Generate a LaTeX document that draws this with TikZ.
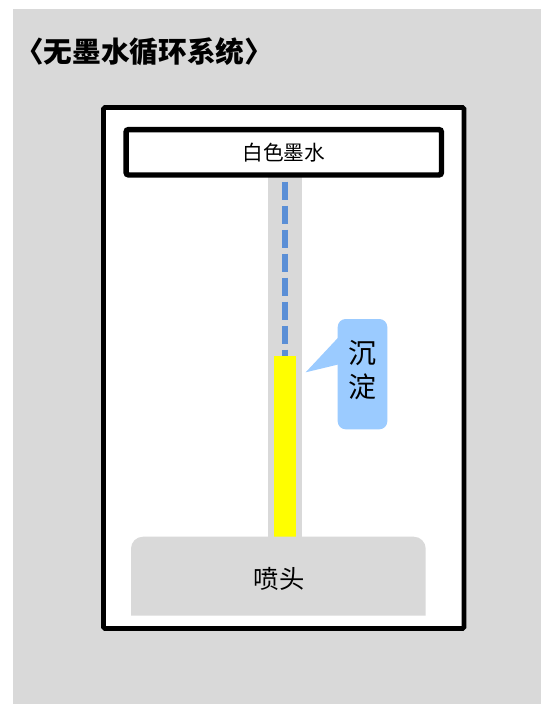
\documentclass[tikz,border=0pt]{standalone}
\usepackage{fontspec}
\newfontfamily\cjk{Noto Sans CJK SC}
\begin{document}
\begin{tikzpicture}[x=0.75pt,y=-0.75pt,
  lab/.style={font=\cjk, text=black, inner sep=0pt},
  gbox/.style={fill=panelgray, draw=none}]
\definecolor{panelgray}{HTML}{D9D9D9}
\definecolor{inkblue}{HTML}{5B8FD6}
\definecolor{calloutblue}{HTML}{9BCBFF}
\definecolor{sedyellow}{RGB}{255,255,0}
\useasboundingbox (0,0) rectangle (541,704);
\fill[white] (0,0) rectangle (541,704);
\fill[panelgray] (13,9) rectangle (541,704);
% title
\node[lab, anchor=west, font=\cjk\bfseries\fontsize{21.5pt}{24pt}\selectfont] (title) at (15,52) {〈无墨水循环系统〉};
% outer box
\draw[line width=3.4pt, fill=white, rounded corners=1pt] (103.5,107.5) rectangle (464,628.5);
% tube
\fill[panelgray] (268.3,177) rectangle (301.7,540);
% dashed ink line
\coordinate (dtop) at (284.7,181.7);
\coordinate (dbot) at (284.7,362);
\draw[inkblue, line width=4.5pt, dash pattern=on 13.5pt off 4.5pt] (dtop) -- (dbot);
% yellow sediment
\fill[sedyellow] (274,355.7) rectangle (295.7,540);
% ink box
\node[draw, line width=4.1pt, fill=white, rounded corners=2pt, minimum width=236.6pt, minimum height=34.1pt, inner sep=0pt, lab, font=\cjk\fontsize{15.5pt}{18pt}\selectfont] (ink) at (283.75,152.25) {白色墨水};
% callout
\fill[calloutblue, rounded corners=6pt] (337.7,319) rectangle (387.3,429.3);
\fill[calloutblue] (339,336.7) -- (305.7,372.3) -- (339,364.3) -- cycle;
\node[lab, align=center, font=\cjk\fontsize{21pt}{25pt}\selectfont] (sed) at (362.5,370) {沉\\淀};
% nozzle
\fill[panelgray, rounded corners=9pt] (131,615.7) -- (131,536.7) -- (425.7,536.7) -- (425.7,615.7);
\node[lab, font=\cjk\fontsize{19pt}{22pt}\selectfont] (noz) at (279,578.5) {喷头};
\end{tikzpicture}
\end{document}
